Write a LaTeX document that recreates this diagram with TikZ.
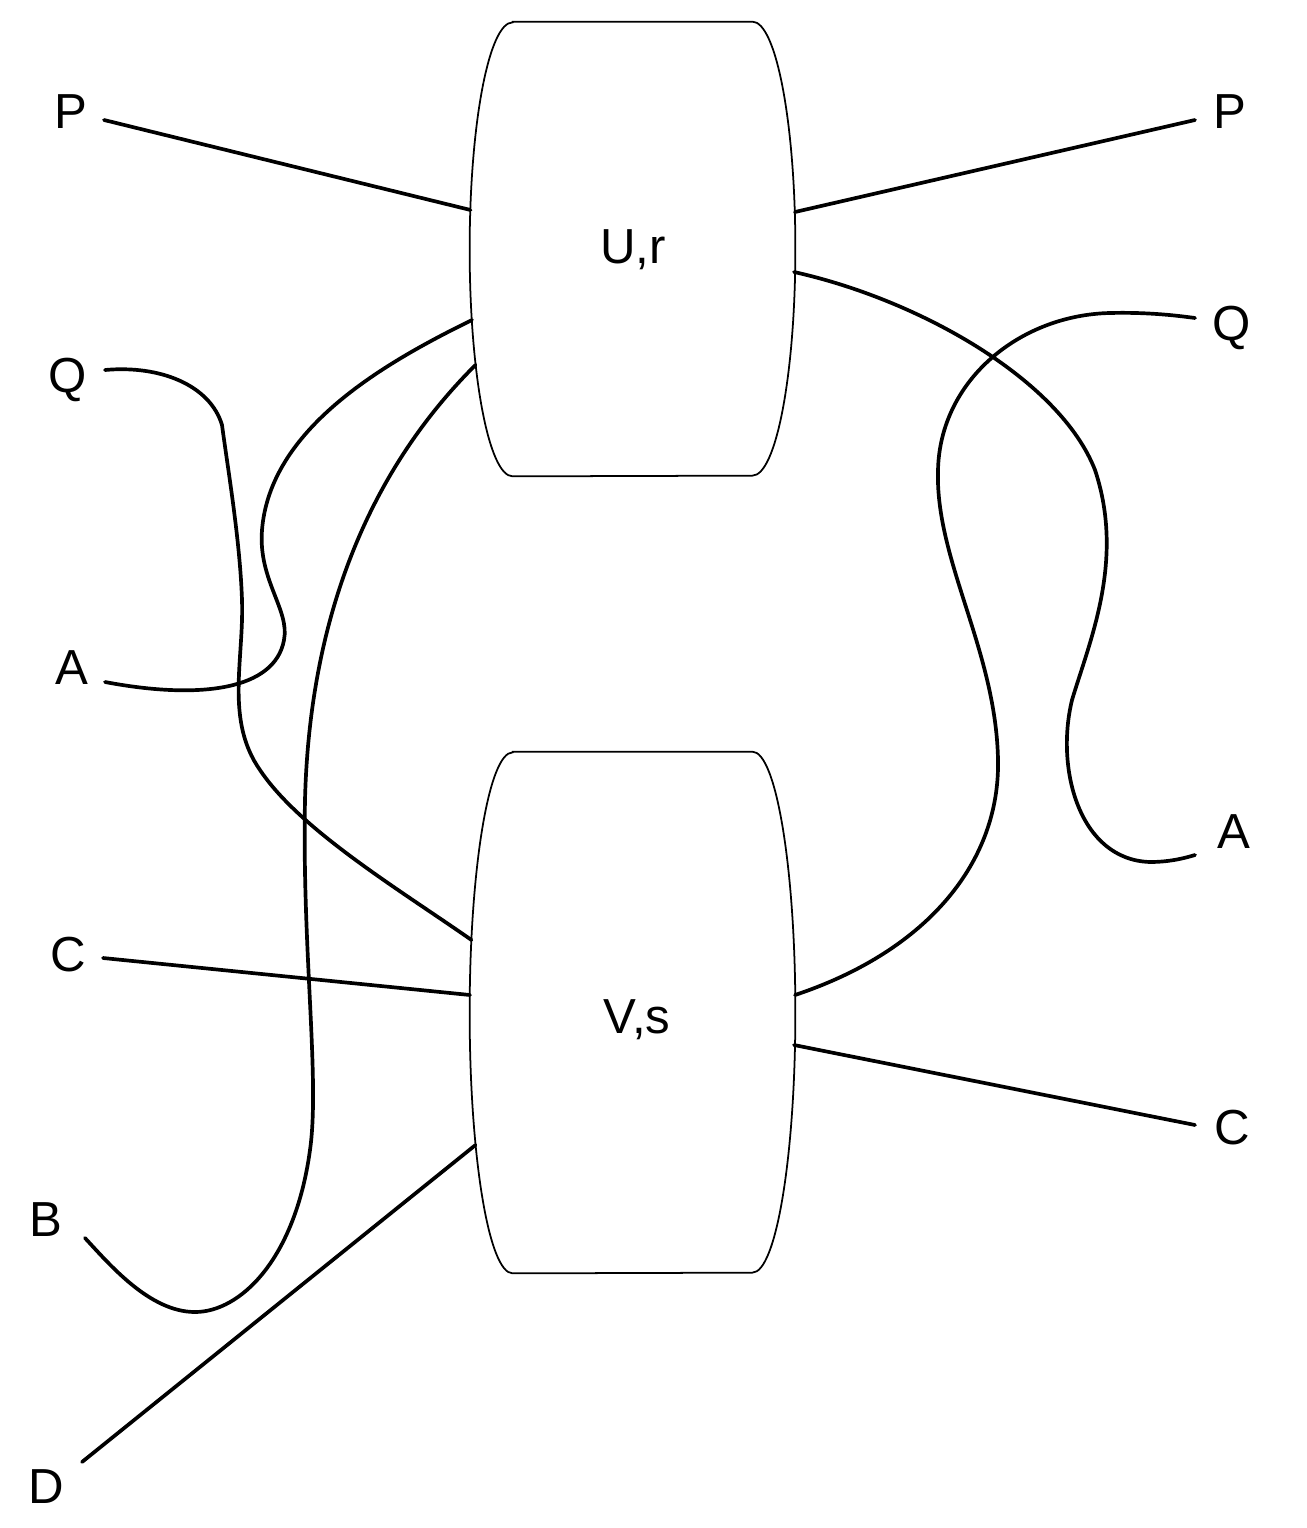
\documentclass[tikz,border=0pt]{standalone}
\usepackage{fontspec}
\setmainfont{Liberation Sans}
\usetikzlibrary{calc}
\tikzset{
  lbl/.style={inner sep=0pt, font=\fontsize{28}{32}\selectfont},
  boxnode/.style={rectangle, inner sep=0pt, minimum width=65mm, font=\fontsize{28}{32}\selectfont},
  boxline/.style={line width=1pt, fill=white},
  wire/.style={line width=2.1pt, line cap=round},
}
% barrel shaped box: straight top and bottom, elliptic sides
\newcommand\barrel[2]{%
  \draw[boxline] ($(#1.north west)+(43,0)$) -- ($(#1.north east)+(-43,0)$)
    arc[start angle=90, end angle=-90, x radius=8.6mm, y radius=#2]
    -- ($(#1.south west)+(43,0)$)
    arc[start angle=270, end angle=90, x radius=8.6mm, y radius=#2] -- cycle;}
\begin{document}
\begin{tikzpicture}[x=0.2mm, y=-0.2mm]
  \fill[white] (0,0) rectangle (1307,1528);
  \useasboundingbox (0,0) rectangle (1307,1528);

  % the two boxes
  \node[boxnode, minimum height=90.8mm] (U) at (632.5,249) {};
  \node[boxnode, minimum height=104.2mm] (V) at (632.5,1012.5) {};
  \barrel{U}{45.4mm}
  \barrel{V}{52.1mm}
  \node[lbl] (Ut) at (633,250) {U,r};
  \node[lbl] (Vt) at (637,1020) {V,s};

  % outer labels
  \node[lbl] (Pl) at (71,112) {P};
  \node[lbl] (Pr) at (1230,112) {P};
  \node[lbl] (Ql) at (68,380) {Q};
  \node[lbl] (Qr) at (1232,328) {Q};
  \node[lbl] (Al) at (72,668) {A};
  \node[lbl] (Ar) at (1234,832) {A};
  \node[lbl] (Cl) at (68,955) {C};
  \node[lbl] (Cr) at (1232,1128) {C};
  \node[lbl] (B)  at (46,1220) {B};
  \node[lbl] (D)  at (46,1487) {D};

  % attachment points on the box outlines
  \coordinate (u-l1) at ($(U.center)+(-162,-39)$);
  \coordinate (u-l2) at ($(U.center)+(-160.5,71)$);
  \coordinate (u-l3) at ($(U.center)+(-157,116)$);
  \coordinate (u-r1) at ($(U.center)+(162.5,-37)$);
  \coordinate (u-r2) at ($(U.center)+(161.5,23)$);
  \coordinate (v-l1) at ($(V.center)+(-161,-72.5)$);
  \coordinate (v-l2) at ($(V.center)+(-162.5,-17.5)$);
  \coordinate (v-l3) at ($(V.center)+(-157,132.5)$);
  \coordinate (v-r1) at ($(V.center)+(162.5,-17.5)$);
  \coordinate (v-r2) at ($(V.center)+(161.5,32.5)$);

  % label ends of the wires
  \coordinate (pl) at ($(Pl)+(33,8)$);
  \coordinate (pr) at ($(Pr)+(-35,8)$);
  \coordinate (ql) at ($(Ql)+(37,-10)$);
  \coordinate (qr) at ($(Qr)+(-37,-10)$);
  \coordinate (al) at ($(Al)+(33,14)$);
  \coordinate (ar) at ($(Ar)+(-39,23)$);
  \coordinate (cl) at ($(Cl)+(35,3)$);
  \coordinate (cr) at ($(Cr)+(-37,-3)$);
  \coordinate (b)  at ($(B)+(39,18)$);
  \coordinate (d)  at ($(D)+(36,-25)$);

  % straight wires
  \draw[wire] (pl) -- (u-l1);
  \draw[wire] (u-r1) -- (pr);
  \draw[wire] (cl) -- (v-l2);
  \draw[wire] (v-r2) -- (cr);
  \draw[wire] (d) -- (v-l3);

  % curved wires
  \draw[wire] (u-l2) .. controls (380,365) and (270,430) .. (262,530)
    .. controls (258,580) and (290,610) .. (284,640)
    .. controls (275,690) and (200,700) .. (al);
  \draw[wire] (u-l3) .. controls (380,460) and (310,600) .. (305,800)
    .. controls (302,950) and (320,1080) .. (310,1150)
    .. controls (295,1260) and (240,1312) .. (195,1312)
    .. controls (150,1312) and (110,1265) .. (b);
  \draw[wire] (ql) .. controls (160,365) and (210,385) .. (222,425)
    .. controls (228,470) and (240,540) .. (242,600)
    .. controls (244,660) and (225,720) .. (260,770)
    .. controls (300,830) and (400,890) .. (v-l1);
  \draw[wire] (u-r2) .. controls (920,300) and (1060,380) .. (1095,470)
    .. controls (1125,560) and (1090,640) .. (1072,700)
    .. controls (1055,770) and (1080,860) .. (1150,862)
    .. controls (1170,862) and (1185,858) .. (ar);
  \draw[wire] (v-r1) .. controls (930,950) and (1000,860) .. (998,760)
    .. controls (996,650) and (935,560) .. (938,470)
    .. controls (940,380) and (1020,315) .. (1110,313)
    .. controls (1150,312) and (1180,316) .. (qr);
\end{tikzpicture}
\end{document}
